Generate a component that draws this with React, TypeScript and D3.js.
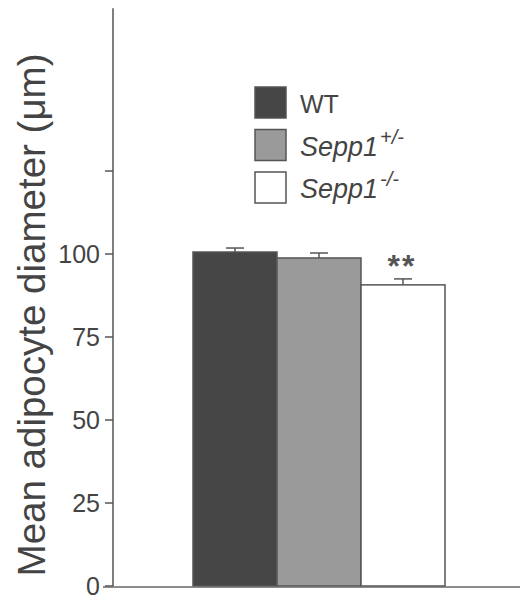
import React from 'react';
import * as d3 from 'd3';

// bar data
const groups = ['WT', 'Sepp1+/-', 'Sepp1-/-'];
const means = [100.6, 98.8, 90.7];
const errors = [1.2, 1.5, 1.8];
const fills = ['#464646', '#9a9a9a', '#ffffff'];
const yTicks = [0, 25, 50, 75, 100, 125];
const yTickLabels = ['0', '25', '50', '75', '100', ''];
const legendNames = ['WT', 'Sepp1', 'Sepp1'];
const legendSups = ['', '+/-', '-/-'];

const width = 524, height = 597;
const axisX = 113;
const yScale = d3.scaleLinear().domain([0, 100]).range([586, 254]);
const xScale = d3.scaleBand().domain(groups).range([193, 445]).padding(0);
const font = 'Arial, "Liberation Sans", Helvetica, sans-serif';
const ink = '#444';

export default function App() {
    const bw = xScale.bandwidth();
    return (
        <svg width={width} height={height} style={{ position: 'absolute', left: 0, top: 0 }}
            fontFamily={font}>
            <rect width={width} height={height} fill="#fff" />

            {/* y axis */}
            <line x1={axisX} x2={axisX} y1={yScale(174)} y2={yScale(0)} stroke="#555" strokeWidth={1.5} />
            {yTicks.map((t, i) => (
                <g key={t} transform={`translate(0,${yScale(t)})`}>
                    <line x1={axisX - 8} x2={axisX} stroke="#555" strokeWidth={1.5} />
                    <text x={100} dy="0.35em" textAnchor="end" fontSize={25} fill={ink}>{yTickLabels[i]}</text>
                </g>
            ))}
            <text transform={`translate(45,${315}) rotate(-90)`} textAnchor="middle" fontSize={38.5} fill={ink}>
                Mean adipocyte diameter (μm)
            </text>

            {/* bars */}
            {groups.map((g, i) => {
                const x = xScale(g)!;
                const cx = x + bw / 2;
                return (
                    <g key={g}>
                        <line x1={cx} x2={cx} y1={yScale(means[i])} y2={yScale(means[i] + errors[i])} stroke="#555" strokeWidth={1.5} />
                        <line x1={cx - 9} x2={cx + 9} y1={yScale(means[i] + errors[i])} y2={yScale(means[i] + errors[i])} stroke="#555" strokeWidth={1.5} />
                        <rect x={x} y={yScale(means[i])} width={bw} height={yScale(0) - yScale(means[i])}
                            fill={fills[i]} stroke="#555" strokeWidth={1.5} />
                    </g>
                );
            })}
            <text x={xScale(groups[2])! + bw / 2 - 1} y={yScale(means[2] + errors[2]) - 2} textAnchor="middle"
                fontSize={32} fontWeight="bold" letterSpacing={2} fill="#555">**</text>

            {/* x axis */}
            <line x1={103} x2={520} y1={yScale(0) + 1} y2={yScale(0) + 1} stroke="#666" strokeWidth={1.5} />

            {/* legend */}
            {legendNames.map((n, i) => (
                <g key={i} transform={`translate(255,${87 + i * 42.5})`}>
                    <rect width={31} height={31} fill={fills[i]} stroke="#555" strokeWidth={1.5} />
                    <text x={45} y={26} fontSize={i === 0 ? 25 : 27} fill={ink} fontStyle={i === 0 ? 'normal' : 'italic'}>
                        {n}
                        {legendSups[i] && <tspan dx={2} dy={-12} fontSize={20}>{legendSups[i]}</tspan>}
                    </text>
                </g>
            ))}
        </svg>
    );
}
